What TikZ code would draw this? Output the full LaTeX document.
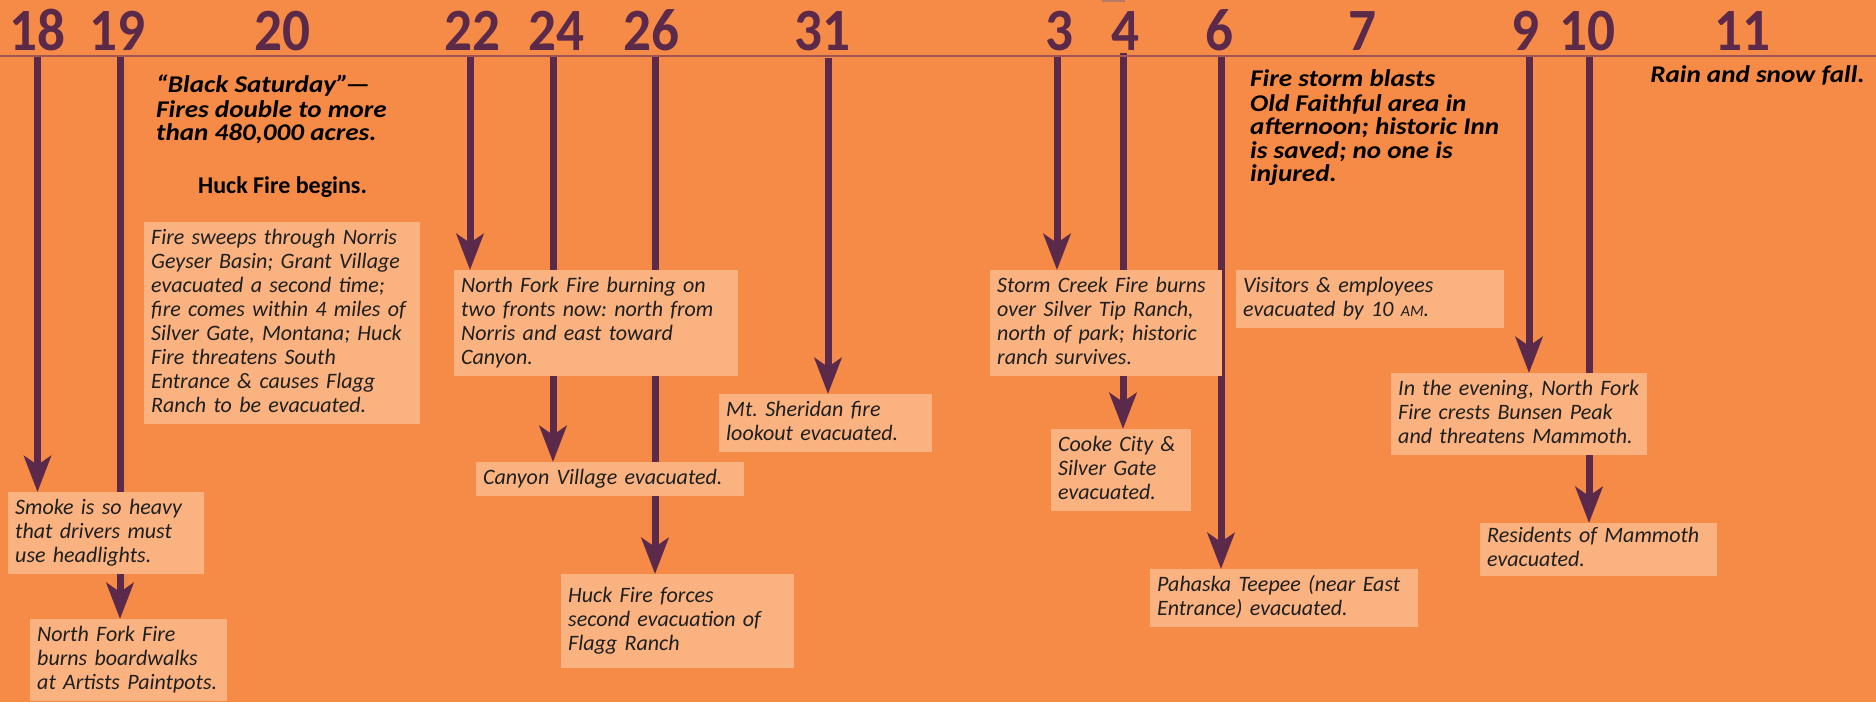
\documentclass[tikz,border=0pt]{standalone}
\usepackage{fontspec}
\setmainfont{Carlito}
\newfontfamily\headfont[FakeStretch=1.13]{Carlito}
\newfontfamily\numfont[FakeStretch=0.92]{Carlito}
\usetikzlibrary{arrows.meta}
\frenchspacing
\definecolor{bgorange}{RGB}{246,139,71}
\definecolor{boxfill}{RGB}{249,178,128}
\definecolor{plum}{RGB}{91,41,73}
\definecolor{rulecol}{RGB}{160,84,84}
\definecolor{topmark}{RGB}{181,122,102}
\pgfdeclarelayer{backdrop}
\pgfdeclarelayer{lines}
\pgfsetlayers{backdrop,lines,main}
\tikzset{
  daynum/.style={font=\numfont\bfseries\fontsize{60}{60}\selectfont, text=plum, anchor=base, inner sep=0pt},
  event/.style={fill=boxfill, anchor=north west, inner xsep=7pt, inner ysep=5pt, align=left,
    font=\frenchspacing\itshape\fontsize{22}{24}\selectfont, text=black!88},
  headline/.style={font=\frenchspacing\headfont\bfseries\itshape\fontsize{24}{23.5}\selectfont, inner sep=0pt, align=left},
  timeline/.style={draw=plum, line width=7pt, -{Stealth[length=36pt,width=27pt,inset=9pt]}},
}
\begin{document}
\begin{tikzpicture}[x=1pt,y=-1pt]
\begin{pgfonlayer}{backdrop}
\fill[bgorange] (0,0) rectangle (1876,702);
\end{pgfonlayer}
\useasboundingbox (0,0) rectangle (1876,702);

% rule and tiny top mark
\fill[topmark] (1102,0) rectangle (1125,2);
\draw[rulecol, line width=1.8pt] (0,56) -- (1876,56);

% day numbers
\node[daynum] (d18) at (37,50) {18};
\node[daynum] (d19) at (117,50) {19};
\node[daynum] (d20) at (282,50) {20};
\node[daynum] (d22) at (472,50) {22};
\node[daynum] (d24) at (556,50) {24};
\node[daynum] (d26) at (651,50) {26};
\node[daynum] (d31) at (822,50) {31};
\node[daynum] (d3) at (1059,50) {3};
\node[daynum] (d4) at (1125,50) {4};
\node[daynum] (d6) at (1219,50) {6};
\node[daynum] (d7) at (1362,50) {7};
\node[daynum] (d9) at (1525,50) {9};
\node[daynum] (d10) at (1587,50) {10};
\node[daynum] (d11) at (1742,50) {11};

% headlines
\node[headline, anchor=north west] (blacksat) at (156,74.5)
  {\strut “Black Saturday”\kern-3pt—\\Fires double to more\\than 480,000 acres.};
\node[font=\bfseries\fontsize{24}{24}\selectfont, anchor=base west, inner sep=0pt] (huck) at (198,193) {Huck Fire begins.};
\node[headline, anchor=north west] (firestorm) at (1250,69.5)
  {\strut Fire storm blasts\\Old Faithful area in\\afternoon; historic Inn\\is saved; no one is\\injured.};
\node[headline, anchor=base east] (rain) at (1865,82) {Rain and snow fall.};

% event boxes
\node[event, text width=182pt] (smoke) at (8,492)
  {\strut Smoke is so heavy\\that drivers must\\use headlights.\strut};
\node[event, text width=183pt] (paint) at (30,619)
  {\strut North Fork Fire\\burns boardwalks\\at Artists Paintpots.\strut};
\node[event, text width=262pt] (norris) at (144,222)
  {\strut Fire sweeps through Norris\\Geyser Basin; Grant Village\\evacuated a second time;\\fire comes within 4 miles of\\Silver Gate, Montana; Huck\\Fire threatens South\\Entrance \& causes Flagg\\Ranch to be evacuated.\strut};
\node[event, text width=270pt] (fronts) at (454,270)
  {\strut North Fork Fire burning on\\two fronts now: north from\\Norris and east toward\\Canyon.\strut};
\node[event, text width=254pt] (canyon) at (476,462)
  {\strut Canyon Village evacuated.\strut};
\node[event, text width=219pt, minimum height=94pt] (flagg) at (561,574)
  {\strut Huck Fire forces\\second evacuation of\\Flagg Ranch\strut};
\node[event, text width=199pt] (sheridan) at (719,394)
  {\strut Mt. Sheridan fire\\lookout evacuated.\strut};
\node[event, text width=218pt] (storm) at (990,270)
  {\strut Storm Creek Fire burns\\over Silver Tip Ranch,\\north of park; historic\\ranch survives.\strut};
\node[event, text width=126pt] (cooke) at (1051,429)
  {\strut Cooke City \&\\Silver Gate\\evacuated.\strut};
\node[event, text width=254pt] (pahaska) at (1150,569)
  {\strut Pahaska Teepee (near East\\Entrance) evacuated.\strut};
\node[event, text width=254pt] (visitors) at (1236,270)
  {\strut Visitors \& employees\\evacuated by 10 {\fontsize{16}{24}\selectfont AM}.\strut};
\node[event, text width=242pt] (evening) at (1391,373)
  {\strut In the evening, North Fork\\Fire crests Bunsen Peak\\and threatens Mammoth.\strut};
\node[event, text width=223pt, inner ysep=2.5pt] (mammoth) at (1480,523)
  {\strut Residents of Mammoth\\evacuated.\strut};

% timeline tops
\coordinate (t18) at (37.5,56);
\coordinate (t19) at (120,56);
\coordinate (t22) at (470,56);
\coordinate (t24) at (553,56);
\coordinate (t26) at (655,56);
\coordinate (t31) at (828,58);
\coordinate (t3) at (1057,57);
\coordinate (t4) at (1123,53);
\coordinate (t6) at (1221,55);
\coordinate (t9) at (1529,56);
\coordinate (t10) at (1589,56);

\begin{pgfonlayer}{lines}
\draw[timeline] (t18) -- (t18 |- smoke.north);
\draw[timeline] (t19) -- (t19 |- paint.north);
\draw[timeline] (t22) -- (t22 |- fronts.north);
\draw[timeline] (t24) -- (t24 |- canyon.north);
\draw[timeline] (t26) -- (t26 |- flagg.north);
\draw[timeline] (t31) -- (t31 |- sheridan.north);
\draw[timeline] (t3) -- (t3 |- storm.north);
\draw[timeline] (t4) -- (t4 |- cooke.north);
\draw[timeline] (t6) -- (t6 |- pahaska.north);
\draw[timeline] (t9) -- (t9 |- evening.north);
\draw[timeline] (t10) -- (t10 |- mammoth.north);
\end{pgfonlayer}
\end{tikzpicture}
\end{document}
